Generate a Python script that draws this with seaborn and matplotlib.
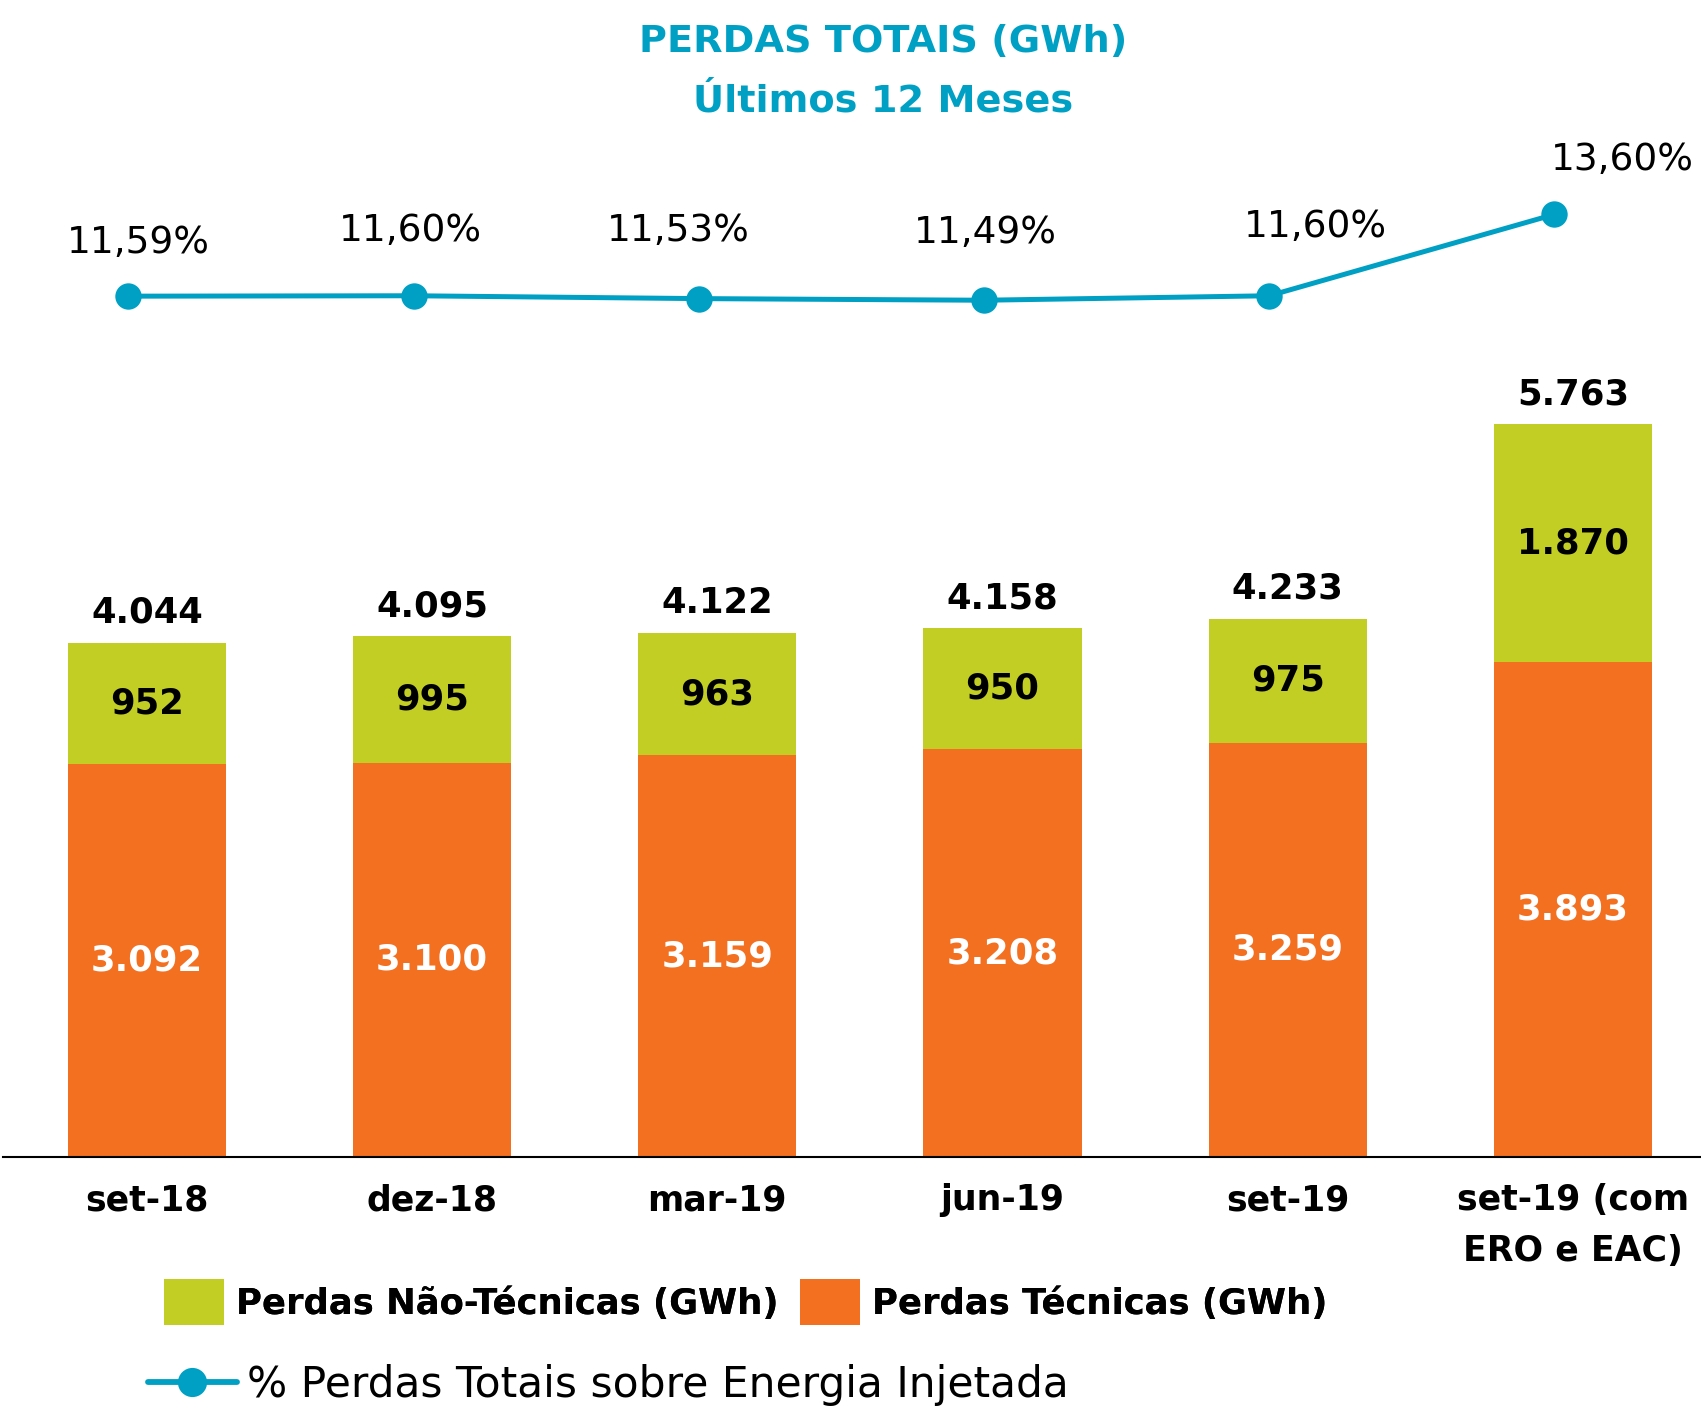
import numpy as np
import pandas as pd
import matplotlib
matplotlib.use("Agg")
import matplotlib.pyplot as plt
import seaborn as sns
from matplotlib.patches import Patch
from matplotlib.lines import Line2D

# ---- data ----
categorias = ["set-18", "dez-18", "mar-19", "jun-19", "set-19", "set-19 (com\nERO e EAC)"]
perdas_tecnicas = [3092, 3100, 3159, 3208, 3259, 3893]
perdas_nao_tecnicas = [952, 995, 963, 950, 975, 1870]
perdas_totais = [4044, 4095, 4122, 4158, 4233, 5763]
pct_perdas = [11.59, 11.60, 11.53, 11.49, 11.60, 13.60]

titulo_1 = "PERDAS TOTAIS (GWh)"
titulo_2 = "Últimos 12 Meses"
leg_nao_tec = "Perdas Não-Técnicas (GWh)"
leg_tec = "Perdas Técnicas (GWh)"
leg_pct = "% Perdas Totais sobre Energia Injetada"

GREEN = "#C2CE23"
ORANGE = "#F37021"
TEAL = "#00A0C4"

def fmt_int(v):
    return f"{v:,}".replace(",", ".")

def fmt_pct(v):
    return f"{v:.2f}".replace(".", ",") + "%"

sns.set_style("white")
plt.rcParams["font.family"] = ["DejaVu Sans"]
plt.rcParams["text.color"] = "black"
plt.rcParams["xtick.color"] = "black"

df = pd.DataFrame({
    "cat": categorias,
    "tec": perdas_tecnicas,
    "nao": perdas_nao_tecnicas,
    "tot": perdas_totais,
    "pct": pct_perdas,
})

fig = plt.figure(figsize=(17.01, 14.08), dpi=100)
ax = fig.add_axes([0.002, 0.1783, 0.998, 0.7223])

sns.barplot(data=df, x="cat", y="tot", color=GREEN, width=0.555, saturation=1,
            linewidth=0, ax=ax)
sns.barplot(data=df, x="cat", y="tec", color=ORANGE, width=0.555, saturation=1,
            linewidth=0, ax=ax)

ax.set_ylim(0, 8000)
ax.set_xlim(-0.503, 5.449)
ax.set_xlabel("")
ax.set_ylabel("")
ax.set_yticks([])
for s in ["top", "right", "left"]:
    ax.spines[s].set_visible(False)
ax.spines["bottom"].set_color("black")
ax.spines["bottom"].set_linewidth(1.5)
ax.tick_params(axis="x", length=0, pad=19, colors="black")
ax.set_xticks(range(len(categorias)))
ax.set_xticklabels(categorias, fontsize=25, fontweight="bold", linespacing=1.6,
                   color="black")

for i in range(len(categorias)):
    tot = df["tot"][i]
    tec = df["tec"][i]
    nao = df["nao"][i]
    ax.annotate(fmt_int(tot), (i, tot), xytext=(0, 30), textcoords="offset pixels",
                ha="center", va="center", fontsize=25.5, fontweight="bold", color="black")
    ax.text(i, tec + (tot - tec) / 2, fmt_int(nao), ha="center", va="center",
            fontsize=25.5, fontweight="bold", color="black")
    ax.text(i, tec / 2, fmt_int(tec), ha="center", va="center",
            fontsize=25.5, fontweight="bold", color="white")

ax2 = ax.twinx()
xline = np.arange(len(categorias)) - 0.065
sns.lineplot(x=xline, y=df["pct"].values, ax=ax2, color=TEAL, linewidth=3.6,
             marker="o", markersize=19, markeredgewidth=0, markerfacecolor=TEAL)
ax2.set_ylim(-9.57, 15.43)
ax2.set_xlim(-0.503, 5.449)
ax2.set_yticks([])
ax2.set_ylabel("")
for s in ["top", "right", "left", "bottom"]:
    ax2.spines[s].set_visible(False)

offsets = [(10, 53), (-3, 65), (-20, 68), (1, 67), (46, 69), (68, 54)]
for i, (xv, yv) in enumerate(zip(xline, df["pct"].values)):
    ax2.annotate(fmt_pct(yv), (xv, yv), xytext=offsets[i], textcoords="offset pixels",
                 ha="center", va="center", fontsize=27, color="black")

fig.text(0.519, 1 - 42 / 1408, titulo_1, ha="center", va="center",
         fontsize=27.5, fontweight="bold", color=TEAL)
fig.text(0.519, 1 - 102 / 1408, titulo_2, ha="center", va="center",
         fontsize=27.5, fontweight="bold", color=TEAL)

h1 = [Patch(facecolor=GREEN, edgecolor="none"), Patch(facecolor=ORANGE, edgecolor="none")]
leg1 = fig.legend(h1, [leg_nao_tec, leg_tec], loc="center left",
                  bbox_to_anchor=(164 / 1701, 1 - 1302 / 1408), ncol=2, frameon=False,
                  prop={"size": 25.5, "weight": "bold"}, handlelength=1.7,
                  handleheight=1.6, handletextpad=0.33, columnspacing=0.6,
                  borderpad=0, borderaxespad=0, labelcolor="black")
h2 = [Line2D([0], [0], color=TEAL, linewidth=4.2, marker="o", markersize=21,
             markeredgewidth=0)]
leg2 = fig.legend(h2, [leg_pct], loc="center left",
                  bbox_to_anchor=(148 / 1701, 1 - 1385 / 1408), frameon=False,
                  prop={"size": 30.5}, handlelength=2.1, handletextpad=0.23,
                  borderpad=0, borderaxespad=0, labelcolor="black")
fig.add_artist(leg1)

fig.savefig("out.png", dpi=100)
